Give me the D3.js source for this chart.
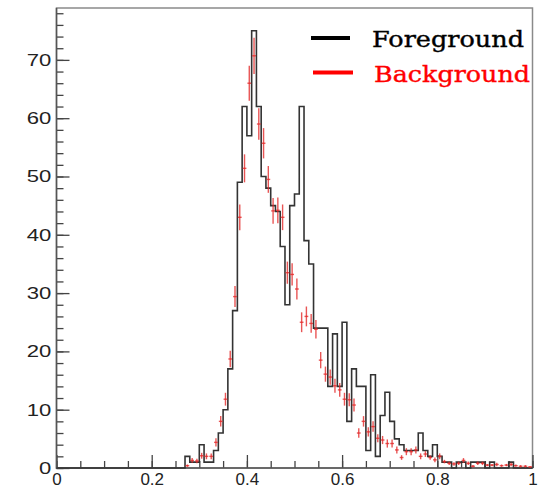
<!DOCTYPE html>
<html>
<head>
<meta charset="utf-8">
<script src="https://cdn.jsdelivr.net/npm/d3@7"></script>
<style>
    body { margin: 0; background: #fff; }
    .tick text { font-family: "Liberation Sans", Arial, sans-serif; font-size: 17px; fill: #222; }
    .legend-text { font-family: "DejaVu Serif", serif; font-size: 23px; }
</style>
</head>
<body>
<script>

// foreground counts, 100 bins of width 0.01 from 0 to 1
const fgCounts = [
    0, 0, 0, 0, 0, 0, 0, 0, 0, 0,
    0, 0, 0, 0, 0, 0, 0, 0, 0, 0,
    0, 0, 0, 0, 0, 0, 0, 2, 1, 1,
    4, 1, 1, 3, 6, 10, 17, 27, 49, 62,
    57, 75, 62, 50, 48, 45, 44, 38, 28, 45,
    47, 62, 39, 35, 24, 24, 24, 14, 23, 14,
    25, 8, 17, 14, 14, 3, 16, 2, 9, 13,
    8, 5, 4, 3, 3, 3, 6, 3, 2, 4,
    2, 1, 1, 0, 1, 1, 0, 1, 1, 1,
    0, 1, 0, 0, 0, 1, 0, 0, 0, 0
];

// background points start at bin 27 (0.27)
const bgFirstBin = 27;
const bgValues = [
    0.4, 1.3, 1.2, 2.1, 2.0, 2.0, 4.4, 8.0, 11.8, 18.7,
    29.4, 43.0, 51.4, 66.0, 70.7, 59.0, 55.7, 49.5, 44.1, 44.2,
    43.0, 33.5, 33.2, 30.7, 25.0, 26.0, 24.8, 23.8, 18.5, 16.1,
    15.6, 14.1, 13.4, 11.8, 11.7, 10.8, 6.0, 8.0, 6.2, 7.1,
    5.1, 4.8, 4.2, 4.2, 3.1, 1.8, 2.8, 2.8, 3.1, 2.0,
    2.4, 1.8, 1.4, 2.0, 1.1, 0.8, 0.7, 0.8, 1.3, 0.8,
    0.3, 0.8, 0.8, 0.5, 0.5, 0.6, 0.4, 0.5, 0.6, 0.4,
    0.3, 0.3, 0.2
];
const bgErrors = [
    0.2, 0.4, 0.4, 0.5, 0.5, 0.5, 0.7, 0.9, 1.1, 1.4,
    1.8, 2.2, 2.4, 3.0, 3.1, 2.7, 2.6, 2.3, 2.2, 2.2,
    2.2, 1.9, 1.9, 1.8, 1.7, 1.7, 1.6, 1.6, 1.4, 1.3,
    1.3, 1.2, 1.2, 1.1, 1.1, 1.1, 0.8, 0.9, 0.8, 0.9,
    0.7, 0.7, 0.7, 0.7, 0.6, 0.4, 0.6, 0.6, 0.6, 0.5,
    0.5, 0.4, 0.4, 0.5, 0.3, 0.3, 0.3, 0.3, 0.4, 0.3,
    0.2, 0.3, 0.3, 0.2, 0.2, 0.3, 0.2, 0.2, 0.3, 0.2,
    0.2, 0.2, 0.1
];

const xMajorTicks = [0, 0.2, 0.4, 0.6, 0.8, 1];
const yMajorTicks = [0, 10, 20, 30, 40, 50, 60, 70];
const legendLabels = ["Foreground", "Background"];
const legendColors = ["#000", "#ff0000"];

const binWidth = 0.01;
const width = 549, height = 492;
const fLeft = 56.5, fRight = 532.5, fTop = 8, fBottom = 468;

let svg = d3.select("body")
    .append("svg")
    .attr("width", width)
    .attr("height", height);

let x = d3.scaleLinear().domain([0, 1]).range([fLeft, fRight]);
let y = d3.scaleLinear().domain([0, 78.9]).range([fBottom, fTop]);

// frame
svg.append("rect")
    .attr("x", fLeft)
    .attr("y", fTop)
    .attr("width", fRight - fLeft)
    .attr("height", fBottom - fTop)
    .attr("fill", "none")
    .attr("stroke", "#8a8a8a")
    .attr("stroke-width", 1.5);

// axes, ticks pointing inward like ROOT
let xAxis = svg.append("g").attr("transform", `translate(0,${fBottom})`);
xAxis.call(d3.axisBottom(x).tickValues(d3.range(0, 1.0001, 0.05)).tickSize(-7).tickFormat(""));
xAxis.append("g").call(d3.axisBottom(x).tickValues(xMajorTicks).tickSize(-13).tickPadding(5)
    .tickFormat(d => d == 0 || d == 1 ? d3.format("d")(d) : d3.format(".1f")(d)));
xAxis.selectAll(".domain").remove();

let yAxis = svg.append("g").attr("transform", `translate(${fLeft},0)`);
yAxis.call(d3.axisLeft(y).tickValues(d3.range(0, 79, 2)).tickSize(-7).tickFormat(""));
yAxis.append("g").call(d3.axisLeft(y).tickValues(yMajorTicks).tickSize(-13).tickPadding(4));
yAxis.selectAll(".domain").remove();
// y labels look wider in the original
yAxis.selectAll(".tick text").attr("transform", "scale(1.3,1)");

svg.selectAll(".tick line").attr("stroke", "#444").attr("stroke-width", 1.3);

// left and bottom axis lines
svg.append("path")
    .attr("d", `M${fLeft},${fTop}V${fBottom}H${fRight}`)
    .attr("fill", "none")
    .attr("stroke", "#555")
    .attr("stroke-width", 1.5);

// foreground histogram outline
let steps = fgCounts.map((c, i) => [i * binWidth, c]);
steps.push([1, fgCounts[fgCounts.length - 1]]);
let stepLine = d3.line()
    .x(d => x(d[0]))
    .y(d => y(d[1]))
    .curve(d3.curveStepAfter);
svg.append("path")
    .datum(steps)
    .attr("d", stepLine)
    .attr("fill", "none")
    .attr("stroke", "#333")
    .attr("stroke-width", 1.6);

// background points with error bars
let bg = bgValues.map((v, i) => ({
    lo: (bgFirstBin + i) * binWidth,
    c: (bgFirstBin + i + 0.5) * binWidth,
    v: v,
    e: bgErrors[i]
}));
let pts = svg.append("g")
    .attr("stroke", "#e42a2a")
    .attr("stroke-opacity", 0.8)
    .attr("stroke-width", 1.4);
pts.selectAll(".ev")
    .data(bg)
    .enter()
    .append("line")
    .attr("class", "ev")
    .attr("x1", d => x(d.c))
    .attr("x2", d => x(d.c))
    .attr("y1", d => y(d.v - d.e))
    .attr("y2", d => y(d.v + d.e));
pts.selectAll(".eh")
    .data(bg)
    .enter()
    .append("line")
    .attr("class", "eh")
    .attr("x1", d => x(d.lo) + 0.5)
    .attr("x2", d => x(d.lo + binWidth) - 0.5)
    .attr("y1", d => y(d.v))
    .attr("y2", d => y(d.v));

// legend
let legend = svg.append("g");
legend.selectAll("line")
    .data(legendLabels)
    .enter()
    .append("line")
    .attr("x1", (d, i) => 311 + i * 2)
    .attr("x2", (d, i) => 350 + i * 3)
    .attr("y1", (d, i) => 38 + i * 34.5)
    .attr("y2", (d, i) => 38 + i * 34.5)
    .attr("stroke", (d, i) => legendColors[i])
    .attr("stroke-width", 4);
legend.selectAll("text")
    .data(legendLabels)
    .enter()
    .append("text")
    .attr("class", "legend-text")
    .attr("x", (d, i) => 372 + i * 2)
    .attr("y", (d, i) => 47 + i * 34.5)
    .attr("textLength", (d, i) => i == 0 ? 152 : 156)
    .attr("lengthAdjust", "spacingAndGlyphs")
    .attr("fill", (d, i) => legendColors[i])
    .attr("stroke", (d, i) => legendColors[i])
    .attr("stroke-width", 0.4)
    .text(d => d);
</script>
</body>
</html>
